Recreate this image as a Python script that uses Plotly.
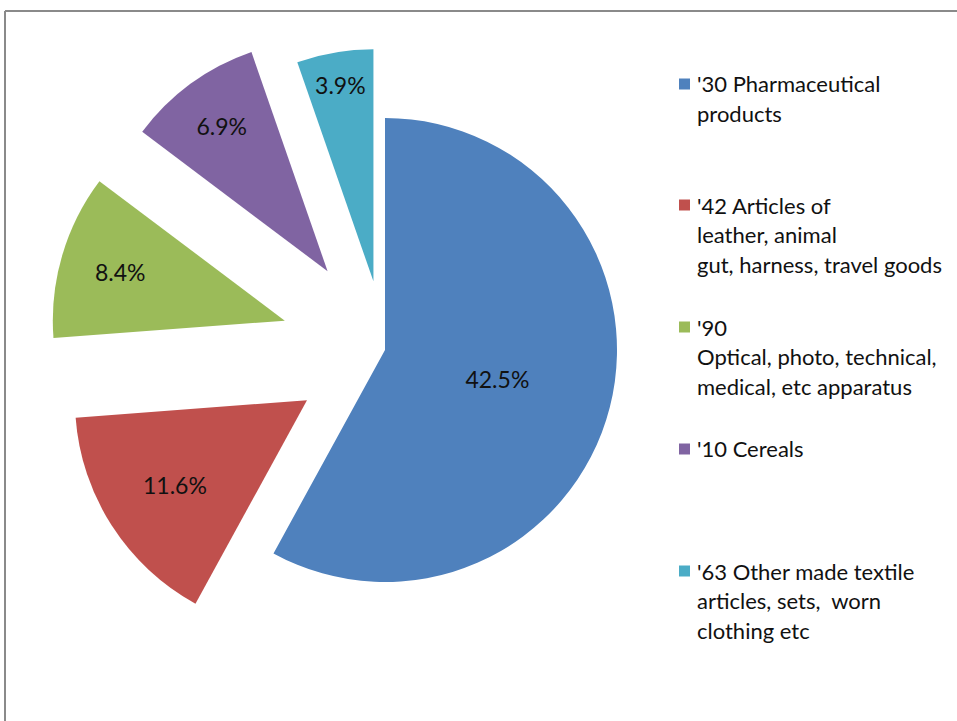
import plotly.graph_objects as go

categories = ["'30 Pharmaceutical products",
              "'42 Articles of leather, animal gut, harness, travel goods",
              "'90 Optical, photo, technical, medical, etc apparatus",
              "'10 Cereals",
              "'63 Other made textile articles, sets, worn clothing etc"]
values = [42.5, 11.6, 8.4, 6.9, 3.9]
legend_lines = [["'30 Pharmaceutical", "products"],
                ["'42 Articles of", "leather, animal", "gut, harness, travel goods"],
                ["'90", "Optical, photo, technical,", "medical, etc apparatus"],
                ["'10 Cereals"],
                ["'63 Other made textile", "articles, sets,  worn", "clothing etc"]]
colors = ["#4F81BD", "#C0504D", "#9BBB59", "#8064A2", "#4BACC6"]
pulls = [0, 0.40, 0.45, 0.42, 0.30]

W, H = 957, 721
FONT = "Lato"

def px(x):
    return x / W

def py(y):
    return 1 - y / H

fig = go.Figure()
fig.add_trace(go.Pie(
    labels=categories,
    values=values,
    text=[f"{v}%" for v in values],
    textinfo="text",
    textposition="inside",
    insidetextorientation="horizontal",
    insidetextfont=dict(color="#111111", size=23, family=FONT),
    marker=dict(colors=colors, line=dict(width=0)),
    pull=pulls,
    sort=False,
    direction="clockwise",
    rotation=0,
    domain=dict(x=[px(48.6), px(721.4)], y=[py(686.4), py(13.6)]),
    hoverinfo="label+text",
    showlegend=False,
))

shapes = []
annotations = []
item_tops = [84, 205, 327, 449, 571]
line_h = 29.5
for i, lines in enumerate(legend_lines):
    y0 = item_tops[i]
    shapes.append(dict(type="rect", xref="paper", yref="paper",
                       x0=px(679), x1=px(690), y0=py(y0 - 5.5), y1=py(y0 + 5.5),
                       fillcolor=colors[i], line=dict(width=0)))
    for j, ln in enumerate(lines):
        annotations.append(dict(xref="paper", yref="paper", x=px(695), y=py(y0 + j * line_h),
                                xanchor="left", yanchor="middle", showarrow=False,
                                text=ln, font=dict(family=FONT, size=22, color="#111111")))

# chart frame
shapes.append(dict(type="line", xref="paper", yref="paper", x0=px(5), x1=1.01,
                   y0=py(11), y1=py(11), line=dict(color="#8a8a8a", width=2)))
shapes.append(dict(type="line", xref="paper", yref="paper", x0=px(5), x1=px(5),
                   y0=py(11), y1=-0.01, line=dict(color="#8a8a8a", width=2)))

fig.update_layout(
    width=W, height=H,
    margin=dict(l=0, r=0, t=0, b=0),
    paper_bgcolor="white",
    plot_bgcolor="white",
    shapes=shapes,
    annotations=annotations,
    uniformtext=dict(minsize=23, mode="show"),
    font=dict(family=FONT),
)

fig.write_html("out.html",
               config={"displayModeBar": False},
               post_script="document.body.style.margin='0';document.body.style.overflow='hidden';")
